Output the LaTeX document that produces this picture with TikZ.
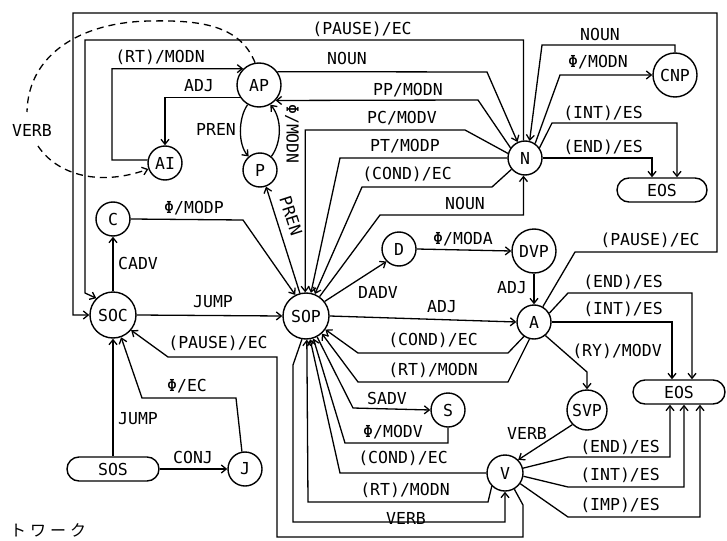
\documentclass[tikz,border=0pt]{standalone}
\usepackage{fontspec}
\newfontfamily\dvm{DejaVu Sans Mono}
\newfontfamily\jpf{Noto Sans CJK JP}
\usetikzlibrary{arrows.meta,shapes.misc}
\newcommand\lblf{\dvm\fontsize{16.5}{18}\selectfont}
\begin{document}
\begin{tikzpicture}[x=1pt,y=-1pt,
  st/.style={circle,draw,line width=1.4pt,minimum size=34pt,inner sep=0pt,font=\lblf},
  term/.style={rounded rectangle,draw,line width=1.4pt,minimum width=90pt,minimum height=24pt,inner sep=0pt,font=\lblf},
  edg/.style={line width=1.3pt,-{Straight Barb[length=5pt,width=8pt]}},
  plainln/.style={line width=1.3pt},
  lab/.style={font=\lblf,inner sep=0pt}]
\useasboundingbox (0,0) rectangle (727,540);
% nodes
\node[st,minimum size=44pt] (AP) at (259,85) {AP};
\node[st] (AI) at (165,163) {AI};
\node[st] (P) at (260,170) {P};
\node[st] (C) at (113,219) {C};
\node[st,minimum size=46pt] (SOC) at (113,315) {SOC};
\node[st,minimum size=46pt] (SOP) at (306,316) {SOP};
\node[term,minimum width=92pt] (SOS) at (113,469) {SOS};
\node[st] (J) at (245,469) {J};
\node[st] (N) at (525,158) {N};
\node[st,minimum size=44pt] (CNP) at (675,75) {CNP};
\node[term] (EOS1) at (662,190) {EOS};
\node[st] (D) at (399,249) {D};
\node[st,minimum size=44pt] (DVP) at (534,251) {DVP};
\node[st] (A) at (534,322) {A};
\node[st] (S) at (448,410) {S};
\node[st,minimum size=40pt] (SVP) at (587,410) {SVP};
\node[st,minimum size=36pt] (V) at (505,473) {V};
\node[term,minimum width=92pt] (EOS2) at (679,392) {EOS};
\coordinate (vb1) at (27,112);
\coordinate (vb2) at (38,146);
% edges
\draw[edg] (A.60) -- (575,252) -- (717,252) -- (717,13) -- (73,13) |- (SOC.west);
\draw[edg] (N.95) -- (523.5,40) -- (85,40) -- (85,293) -- (SOC.135);
\draw[plainln,dash pattern=on 7pt off 5pt] (AP.100) .. controls (240,25) and (200,20) .. (150,21) .. controls (80,22) and (28,55) .. (vb1);
\draw[edg,dash pattern=on 7pt off 5pt] (vb2) .. controls (55,172) and (95,188) .. (AI.200);
\draw[edg] (AI.170) -- (112,160) |- (AP.134);
\draw[edg] (AP.213) -| (AI.north);
\draw[edg] (AP.36) -- (487,72) -- (N.115);
\draw[edg] (N.145) -- (478,100) -- (AP.317);
\draw[edg] (N.165) -- (465,130) -| (SOP.92);
\draw[edg] (N.180) -- (340,158) -- (SOP.78);
\draw[edg] (N.220) -- (492,187) -- (362,187) -- (SOP.68);
\draw[edg] (SOP.55) -- (380,215) -| (N.265);
\draw[edg] (C.east) -- (243,220) -- (SOP.117);
\draw[edg] (SOP.105) -- (P.290);
\draw[edg] (AP.240) .. controls (238,118) and (238,145) .. (P.130);
\draw[edg] (P.50) .. controls (282,142) and (282,118) .. (AP.300);
\draw[edg] (SOC.north) -- (C.south);
\draw[edg] (SOC.east) -- (SOP.west);
\draw[edg] (V.300) -- (523,505) -- (523,537) -- (277,537) -- (277,357) -- (168,357) -- (SOC.-40);
\draw[edg] (J.100) -- (236,398) -- (142,398) -- (SOC.290);
\draw[edg] (SOS.north) -- (SOC.south);
\draw[edg] (SOS.east) -- (J.west);
\draw[edg] (SOP.east) -- (A.west);
\draw[edg] (SOP.38) -- (D.225);
\draw[edg] (D.east) -- (DVP.west);
\draw[edg] (DVP.south) -- (A.north);
\draw[edg] (A.235) -- (508,353) -- (358,353) -- (SOP.-35);
\draw[edg] (A.255) -- (508,382) -- (358,382) -- (SOP.-48);
\draw[edg] (SOP.-62) -- (353,408) -- (S.west);
\draw[edg] (S.south) -- (448,443) -- (345,443) -- (SOP.-72);
\draw[edg] (V.west) -- (340,473) -- (SOP.-80);
\draw[edg] (V.225) -- (488,502) -- (308,502) -- (SOP.-88);
\draw[edg] (SOP.-100) -- (293,365) -- (293,522) -| (V.south);
\draw[edg] (A.-50) -- (587,372) -- (SVP.north);
\draw[edg] (SVP.225) -- (V.45);
\draw[edg] (A.30) -- (568,293) -| ([xshift=13pt]EOS2.north);
\draw[edg] (A.east) -| ([xshift=-7pt]EOS2.north);
\draw[edg] (V.15) -- (568,457) -| ([xshift=-9pt]EOS2.south);
\draw[edg] (V.-10) -- (568,487) -| ([xshift=5pt]EOS2.south);
\draw[edg] (V.-35) -- (568,517) -| ([xshift=21pt]EOS2.south);
\draw[edg] (N.35) -- (552,123) -| ([xshift=15pt]EOS1.north);
\draw[edg] (N.east) -| ([xshift=-10pt]EOS1.north);
\draw[edg] (N.55) -- (560,75) -- (CNP.west);
\draw[edg] (CNP.north) |- (542,45) -- (N.75);
% labels
\node[lab] (l1) at (362,29) {(PAUSE)/EC};
\node[lab] (l2) at (347,58) {NOUN};
\node[lab] (l3) at (160,57) {(RT)/MODN};
\node[lab] (l4) at (199,86) {ADJ};
\node[lab] (l5) at (32,130) {VERB};
\node[lab] (l6) at (216,129) {PREN};
\node[lab,rotate=-90] (l7) at (292,134) {Φ/MODN};
\node[lab] (l8) at (408,90) {PP/MODN};
\node[lab] (l9) at (402,118) {PC/MODV};
\node[lab] (l10) at (405,146) {PT/MODP};
\node[lab] (l11) at (407,174) {(COND)/EC};
\node[lab] (l12) at (465,203) {NOUN};
\node[lab] (l13) at (600,34) {NOUN};
\node[lab] (l14) at (598,62) {Φ/MODN};
\node[lab] (l15) at (603,113) {(INT)/ES};
\node[lab] (l16) at (603,147) {(END)/ES};
\node[lab] (l17) at (194,208) {Φ/MODP};
\node[lab,rotate=-72] (l18) at (291,216) {PREN};
\node[lab] (l19) at (138,263) {CADV};
\node[lab] (l20) at (213,302) {JUMP};
\node[lab] (l21) at (218,343) {(PAUSE)/EC};
\node[lab] (l22) at (187,386) {Φ/EC};
\node[lab] (l23) at (138,419) {JUMP};
\node[lab] (l24) at (193,457) {CONJ};
\node[lab] (l25) at (378,292) {DADV};
\node[lab] (l26) at (463,239) {Φ/MODA};
\node[lab] (l27) at (512,288) {ADJ};
\node[lab] (l28) at (442,307) {ADJ};
\node[lab] (l29) at (650,240) {(PAUSE)/EC};
\node[lab] (l30) at (623,282) {(END)/ES};
\node[lab] (l31) at (623,309) {(INT)/ES};
\node[lab] (l32) at (617,351) {(RY)/MODV};
\node[lab] (l33) at (433,340) {(COND)/EC};
\node[lab] (l34) at (433,370) {(RT)/MODN};
\node[lab] (l35) at (387,398) {SADV};
\node[lab] (l36) at (393,432) {Φ/MODV};
\node[lab] (l37) at (403,458) {(COND)/EC};
\node[lab] (l38) at (405,490) {(RT)/MODN};
\node[lab] (l39) at (406,518) {VERB};
\node[lab] (l40) at (527,433) {VERB};
\node[lab] (l41) at (620,447) {(END)/ES};
\node[lab] (l42) at (620,475) {(INT)/ES};
\node[lab] (l43) at (620,505) {(IMP)/ES};
\node[font=\jpf\fontsize{16}{18}\selectfont,inner sep=0pt] (l44) at (48,530) {ト\hspace{4pt}ワ\hspace{4pt}ー\hspace{4pt}ク};
\end{tikzpicture}
\end{document}
